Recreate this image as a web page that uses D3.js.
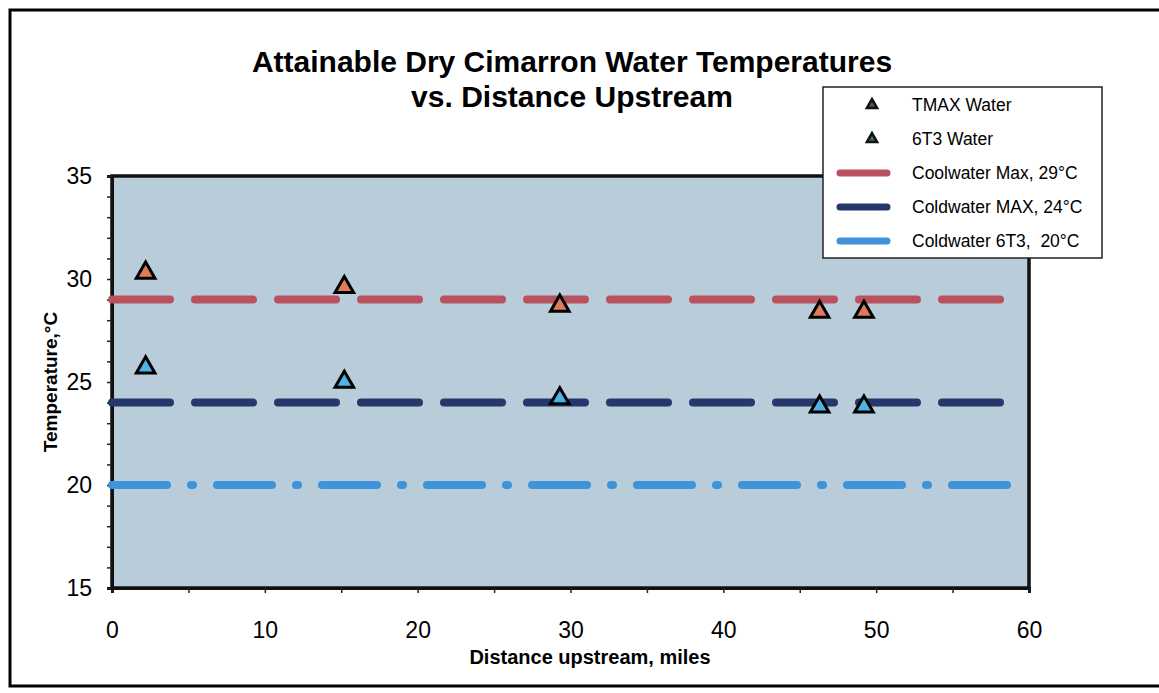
<!DOCTYPE html>
<html>
<head>
<meta charset="utf-8" />
<title>Attainable Dry Cimarron Water Temperatures</title>
<style>
  body { margin: 0; background: #fff; }
  #chart svg { display: block; font-family: "Liberation Sans", Arial, sans-serif; }
</style>
</head>
<body>
<div id="chart"></div>
<script src="https://cdnjs.cloudflare.com/ajax/libs/d3/7.8.5/d3.min.js"></script>
<script>
// data
var distance = [2.2, 15.2, 29.3, 46.3, 49.2];
var tmaxWater = [30.3, 29.6, 28.7, 28.4, 28.4];
var t6t3Water = [25.7, 25.0, 24.2, 23.8, 23.8];
var criteria = [
  { name: "Coolwater Max, 29°C", value: 29, color: "#b9515f", dash: "58,25" },
  { name: "Coldwater MAX, 24°C", value: 24, color: "#26376b", dash: "58,25" },
  { name: "Coldwater 6T3,  20°C", value: 20, color: "#3f93d8", dash: "55,24,2,24" }
];
var lineSpan = [0, 59];
var xTicks = [0, 10, 20, 30, 40, 50, 60];
var yTicks = [15, 20, 25, 30, 35];

!(function () {
  var width = 1159, height = 693;
  var margin = { top: 176, left: 112, right: 130, bottom: 105 };

  var svg = d3.select("#chart").append("svg")
    .attr("width", width)
    .attr("height", height);

  // outer frame
  svg.append("rect")
    .attr("x", 10).attr("y", 10)
    .attr("width", width + 10).attr("height", 676)
    .attr("fill", "none").attr("stroke", "#000").attr("stroke-width", 3);

  var x = d3.scaleLinear().domain([0, 60]).range([margin.left, width - margin.right]);
  var y = d3.scaleLinear().domain([15, 35]).range([height - margin.bottom, margin.top]);

  // plot area
  svg.append("rect")
    .attr("x", x(0)).attr("y", y(35))
    .attr("width", x(60) - x(0)).attr("height", y(15) - y(35))
    .attr("fill", "#b9ccd9")
    .attr("stroke", "#111").attr("stroke-width", 3.5);

  // axes
  svg.append("g")
    .attr("transform", "translate(0," + y(15) + ")")
    .call(d3.axisBottom(x).tickValues(d3.range(0, 61, 5)).tickSize(5).tickFormat(""));
  svg.append("g")
    .attr("transform", "translate(0," + y(15) + ")")
    .call(d3.axisBottom(x).tickValues(xTicks).tickSize(0).tickPadding(34).tickFormat(d3.format("d")))
    .call(function (g) { g.select(".domain").remove(); })
    .selectAll("text").attr("font-size", 23).attr("fill", "#000");

  svg.append("g")
    .attr("transform", "translate(" + x(0) + ",0)")
    .call(d3.axisLeft(y).tickValues(d3.range(15, 36, 1)).tickSize(5).tickFormat(""));
  svg.append("g")
    .attr("transform", "translate(" + x(0) + ",0)")
    .call(d3.axisLeft(y).tickValues(yTicks).tickSize(0).tickPadding(20).tickFormat(d3.format("d")))
    .call(function (g) { g.select(".domain").remove(); })
    .selectAll("text").attr("font-size", 23).attr("fill", "#000");
  svg.selectAll(".domain").attr("stroke", "#111").attr("stroke-width", 3);
  svg.selectAll(".tick line").attr("stroke", "#222").attr("stroke-width", 1.5);

  // criteria lines
  var line = d3.line().x(function (d) { return x(d[0]); }).y(function (d) { return y(d[1]); });
  svg.selectAll("path.crit")
    .data(criteria)
    .enter().append("path")
    .attr("class", "crit")
    .attr("d", function (c) { return line(lineSpan.map(function (d) { return [d, c.value]; })); })
    .attr("fill", "none")
    .attr("stroke", function (c) { return c.color; })
    .attr("stroke-width", 8)
    .attr("stroke-linecap", "round")
    .attr("stroke-dasharray", function (c) { return c.dash; });

  // triangles
  var tri = d3.symbol().type(d3.symbolTriangle).size(150);
  function drawPoints(vals, fill) {
    svg.append("g").selectAll("path")
      .data(vals)
      .enter().append("path")
      .attr("d", tri)
      .attr("transform", function (d, i) { return "translate(" + x(distance[i]) + "," + y(d) + ")"; })
      .attr("fill", fill)
      .attr("stroke", "#000")
      .attr("stroke-width", 3)
      .attr("stroke-linejoin", "miter");
  }
  drawPoints(tmaxWater, "#e07a5c");
  drawPoints(t6t3Water, "#4eb2e4");

  // titles
  var title = svg.append("text")
    .attr("x", 572).attr("y", 72)
    .attr("text-anchor", "middle")
    .attr("font-size", 30).attr("font-weight", "bold");
  title.append("tspan").attr("x", 572).text("Attainable Dry Cimarron Water Temperatures");
  title.append("tspan").attr("x", 572).attr("dy", 35).text("vs. Distance Upstream");

  svg.append("text")
    .attr("x", 590).attr("y", 664)
    .attr("text-anchor", "middle")
    .attr("font-size", 20).attr("font-weight", "bold")
    .text("Distance upstream, miles");

  svg.append("text")
    .attr("transform", "translate(57," + y(25) + ") rotate(-90)")
    .attr("text-anchor", "middle")
    .attr("font-size", 19).attr("font-weight", "bold")
    .text("Temperature,°C");

  // legend
  var legend = svg.append("g").attr("transform", "translate(823,87)");
  legend.append("rect")
    .attr("width", 279).attr("height", 171)
    .attr("fill", "#fff").attr("stroke", "#222").attr("stroke-width", 1.5);
  var items = [
    { name: "TMAX Water", fill: "#6a4a3c" },
    { name: "6T3 Water", fill: "#3d6a6e" }
  ].concat(criteria);
  var row = legend.selectAll("g.item")
    .data(items)
    .enter().append("g")
    .attr("class", "item")
    .attr("transform", function (d, i) { return "translate(0," + (18 + i * 34) + ")"; });
  row.each(function (d) {
    var g = d3.select(this);
    if (d.fill) {
      g.append("path")
        .attr("d", d3.symbol().type(d3.symbolTriangle).size(45))
        .attr("transform", "translate(49,0)")
        .attr("fill", d.fill).attr("stroke", "#111").attr("stroke-width", 2.5);
    } else {
      g.append("line")
        .attr("x1", 17).attr("x2", 64)
        .attr("stroke", d.color).attr("stroke-width", 7).attr("stroke-linecap", "round");
    }
    g.append("text")
      .attr("x", 89).attr("y", 6)
      .attr("font-size", 17.5)
      .style("white-space", "pre")
      .text(d.name);
  });
}());
</script>
</body>
</html>
